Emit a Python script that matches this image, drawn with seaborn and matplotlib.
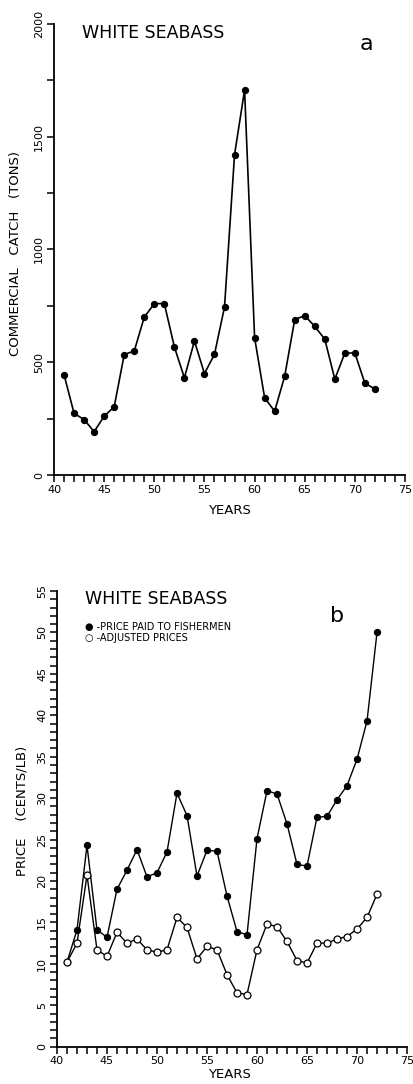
import matplotlib
matplotlib.use("Agg")
import matplotlib.pyplot as plt
from matplotlib.ticker import MultipleLocator
import seaborn as sns
import pandas as pd

# values
years = list(range(1941, 1973))
yr = [y - 1900 for y in years]
catch_tons = [445, 273, 246, 192, 261, 302, 534, 550, 700, 760, 760, 568, 431, 594,
              450, 535, 745, 1420, 1707, 609, 342, 283, 438, 689, 707, 659, 602,
              425, 541, 541, 406, 382]
price_paid = [10.2, 14.1, 24.3, 14.1, 13.2, 19.0, 21.3, 23.8, 20.5, 21.0, 23.5, 30.6,
              27.9, 20.6, 23.7, 23.6, 18.2, 13.9, 13.5, 25.1, 30.9, 30.5, 26.9, 22.0,
              21.8, 27.7, 27.8, 29.8, 31.5, 34.7, 39.3, 50.0]
price_adjusted = [10.2, 12.5, 20.7, 11.7, 10.9, 13.8, 12.5, 13.0, 11.7, 11.4, 11.7, 15.6,
                  14.4, 10.6, 12.1, 11.7, 8.7, 6.5, 6.3, 11.7, 14.8, 14.5, 12.7, 10.4,
                  10.1, 12.5, 12.5, 13.0, 13.3, 14.2, 15.6, 18.4]

df = pd.DataFrame({"yr": yr, "catch": catch_tons,
                   "paid": price_paid, "adj": price_adjusted})

sns.set_style("ticks")
plt.rcParams["font.family"] = ["DejaVu Sans"]
plt.rcParams["text.color"] = "black"
plt.rcParams["axes.labelcolor"] = "black"
plt.rcParams["xtick.labelcolor"] = "black"
plt.rcParams["ytick.labelcolor"] = "black"

fig = plt.figure(figsize=(4.13, 10.84), dpi=100)
ax1 = fig.add_axes([0.1308, 0.5618, 0.8499, 0.4161])
ax2 = fig.add_axes([0.1380, 0.0344, 0.8475, 0.4204])


def style_axis(ax):
    sns.despine(ax=ax)
    for s in ["left", "bottom"]:
        ax.spines[s].set_linewidth(1.3)
        ax.spines[s].set_color("black")
    ax.set_xlim(40, 75)
    ax.xaxis.set_major_locator(MultipleLocator(5))
    ax.xaxis.set_minor_locator(MultipleLocator(1))
    ax.tick_params(which="both", direction="out", length=5, width=1.1,
                   color="black", labelcolor="black", labelsize=8, pad=2)
    ax.tick_params(axis="y", labelrotation=90)
    for lab in ax.get_yticklabels():
        lab.set_va("center")
    ax.set_xlabel("YEARS", fontsize=9.5)


# panel a
sns.lineplot(data=df, x="yr", y="catch", ax=ax1, color="black", lw=1.2,
             marker="o", ms=4.5, mec="black", mfc="black")
ax1.set_ylim(0, 2000)
ax1.yaxis.set_major_locator(MultipleLocator(500))
ax1.yaxis.set_minor_locator(MultipleLocator(250))
style_axis(ax1)
ax1.set_ylabel("COMMERCIAL   CATCH   (TONS)", fontsize=9.5)
ax1.yaxis.set_label_coords(-0.09, 0.49)
ax1.xaxis.set_label_coords(0.499, -0.065)
ax1.text(0.08, 0.98, "WHITE SEABASS", transform=ax1.transAxes, fontsize=12.5,
         va="center", ha="left")
ax1.text(0.89, 0.955, "a", transform=ax1.transAxes, fontsize=16,
         va="center", ha="center")

# panel b
sns.lineplot(data=df, x="yr", y="paid", ax=ax2, color="black", lw=1.0,
             marker="o", ms=4.5, mec="black", mfc="black")
sns.lineplot(data=df, x="yr", y="adj", ax=ax2, color="black", lw=1.0,
             marker="o", ms=5, mec="black", mfc="white", mew=0.9)
ax2.set_ylim(0, 55)
ax2.yaxis.set_major_locator(MultipleLocator(5))
ax2.yaxis.set_minor_locator(MultipleLocator(1))
style_axis(ax2)
ax2.set_ylabel("PRICE    (CENTS/LB)", fontsize=9.5)
ax2.yaxis.set_label_coords(-0.08, 0.517)
ax2.xaxis.set_label_coords(0.494, -0.046)
ax2.text(0.08, 0.983, "WHITE SEABASS", transform=ax2.transAxes, fontsize=12.5,
         va="center", ha="left")
ax2.text(0.80, 0.945, "b", transform=ax2.transAxes, fontsize=16,
         va="center", ha="center")
ax2.text(0.08, 0.922, "\u25cf -PRICE PAID TO FISHERMEN", transform=ax2.transAxes,
         fontsize=7, va="center", ha="left")
ax2.text(0.08, 0.896, "\u25cb -ADJUSTED PRICES", transform=ax2.transAxes,
         fontsize=7, va="center", ha="left")

fig.savefig("out.png", dpi=100)
